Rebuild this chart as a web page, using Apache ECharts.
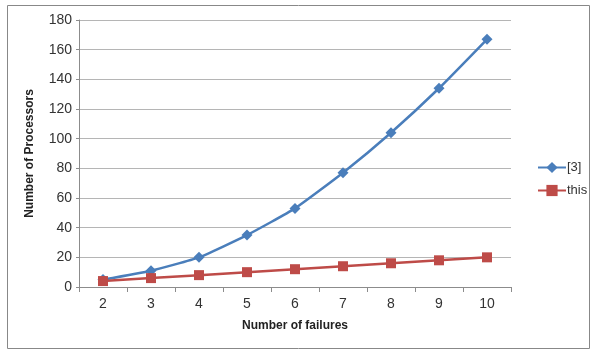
<!DOCTYPE html>
<html><head><meta charset="utf-8">
<script src="https://cdn.jsdelivr.net/npm/echarts@6/dist/echarts.min.js"></script>
<style>html,body{margin:0;padding:0;background:#fff}#c{width:592px;height:350px}</style>
</head><body><div id="c"></div>
<script>
const categories = ['2','3','4','5','6','7','8','9','10'];
const seriesRef = [5, 11, 20, 35, 53, 77, 104, 134, 167];
const seriesThis = [4, 6, 8, 10, 12, 14, 16, 18, 20];
const seriesNames = ['[3]', 'this'];

const chart = echarts.init(document.getElementById('c'));
const font = 'Liberation Sans, Arial, sans-serif';
chart.setOption({
  animation: false,
  graphic: [{type:'rect', shape:{x:7.5,y:5.5,width:582,height:343}, style:{fill:'none',stroke:'#888',lineWidth:1}, z:-1}],
  grid: {left:79, right:81, top:20, bottom:63},
  legend: {
    orient:'vertical', left:532, top:156, itemGap:10, itemWidth:28, itemHeight:14,
    textStyle:{fontFamily:font, fontSize:13, color:'#333', padding:[0,0,0,-4]},
    data: seriesNames
  },
  xAxis: {
    type:'category', data:categories, boundaryGap:true,
    name:'Number of failures', nameLocation:'middle', nameGap:33,
    nameTextStyle:{fontFamily:font, fontSize:12, fontWeight:'bold', color:'#222'},
    axisLine:{lineStyle:{color:'#8c8c8c'}},
    axisTick:{show:true, length:5, lineStyle:{color:'#8c8c8c'}},
    axisLabel:{fontFamily:font, fontSize:14, color:'#333', margin:10}
  },
  yAxis: {
    type:'value', min:0, max:180, interval:20,
    name:'Number of Processors', nameLocation:'middle', nameGap:43,
    nameTextStyle:{fontFamily:font, fontSize:12, fontWeight:'bold', color:'#222'},
    axisLine:{show:true, lineStyle:{color:'#8c8c8c'}},
    axisTick:{show:true, length:3, lineStyle:{color:'#8c8c8c'}},
    axisLabel:{fontFamily:font, fontSize:14, color:'#333', margin:7},
    splitLine:{lineStyle:{color:'#b5b5b5'}}
  },
  series: [
    {name:seriesNames[0], type:'line', data:seriesRef, symbol:'diamond', symbolSize:11,
     lineStyle:{color:'#4a7ebb', width:2.5}, itemStyle:{color:'#4a7ebb'}, smooth:0.15},
    {name:seriesNames[1], type:'line', data:seriesThis, symbol:'rect', symbolSize:10,
     lineStyle:{color:'#be4b48', width:2.5}, itemStyle:{color:'#be4b48'}}
  ]
});
</script></body></html>
